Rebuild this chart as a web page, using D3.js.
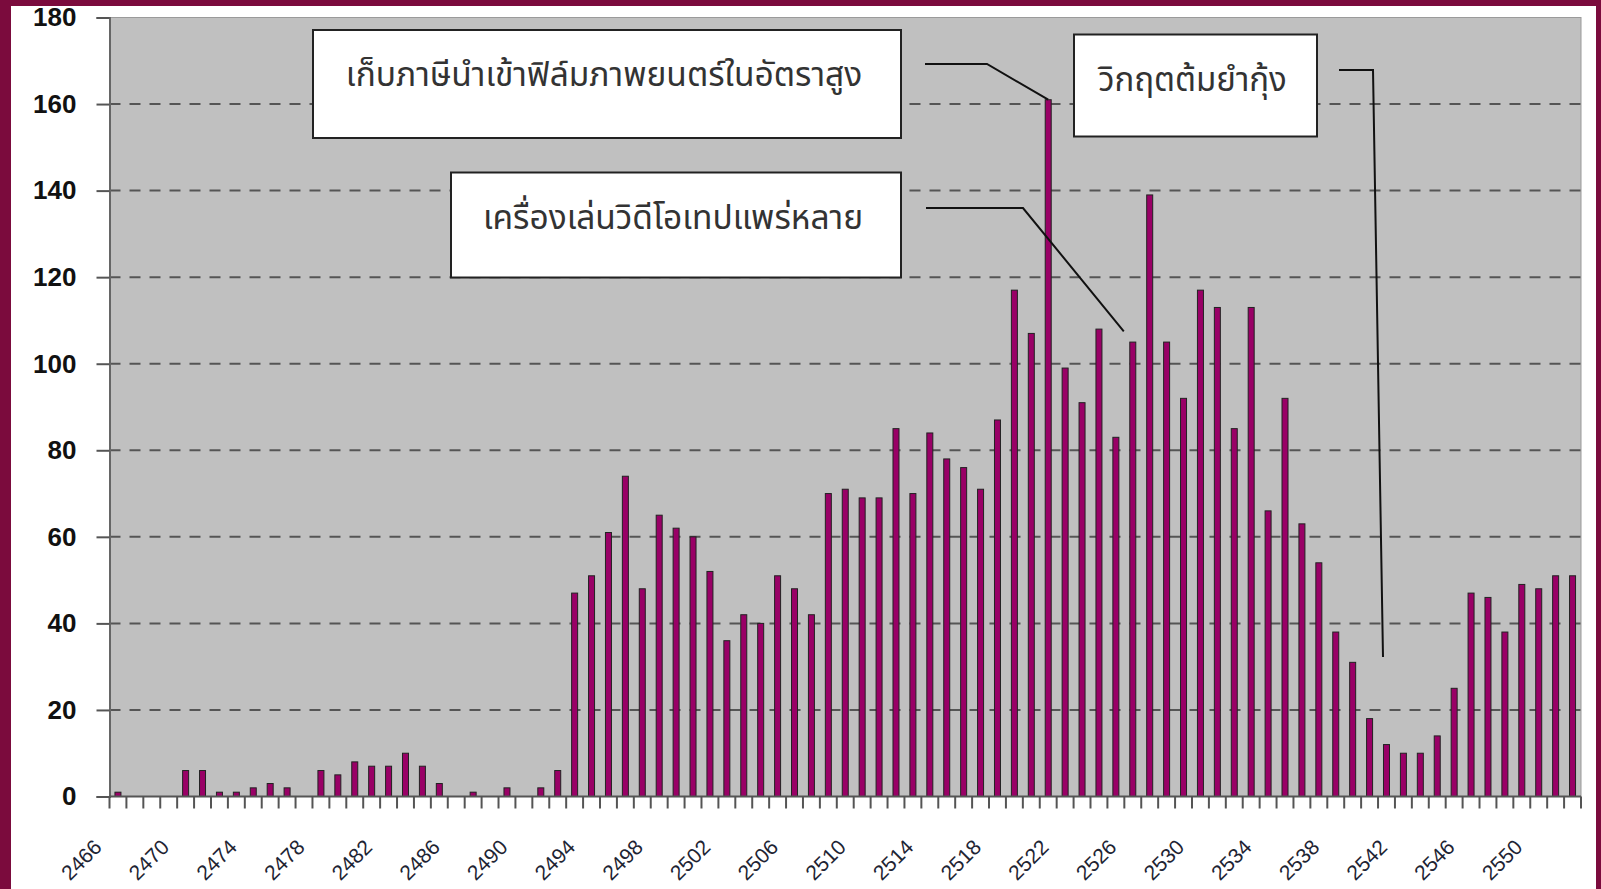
<!DOCTYPE html>
<html>
<head>
<meta charset="utf-8">
<script src="https://cdn.jsdelivr.net/npm/d3@7"></script>
<style>
  html, body { margin: 0; padding: 0; background: #fff; }
  #chart { width: 1601px; height: 889px; }
</style>
</head>
<body>
<div id="chart"></div>
<script>
// years (B.E.) and number of films per year
let firstYear = 2466, lastYear = 2552;
let years = d3.range(firstYear, lastYear + 1);
let films = [
    1, 0, 0, 0, 6, 6, 1, 1, 2, 3,
    2, 0, 6, 5, 8, 7, 7, 10, 7, 3,
    0, 1, 0, 2, 0, 2, 6, 47, 51, 61,
    74, 48, 65, 62, 60, 52, 36, 42, 40, 51,
    48, 42, 70, 71, 69, 69, 85, 70, 84, 78,
    76, 71, 87, 117, 107, 161, 99, 91, 108, 83,
    105, 139, 105, 92, 117, 113, 85, 113, 66, 92,
    63, 54, 38, 31, 18, 12, 10, 10, 14, 25,
    47, 46, 38, 49, 48, 51, 51
];
let xTickLabels = ["2466", "2470", "2474", "2478", "2482", "2486", "2490", "2494",
    "2498", "2502", "2506", "2510", "2514", "2518", "2522", "2526", "2530",
    "2534", "2538", "2542", "2546", "2550"];
let yTicks = [0, 20, 40, 60, 80, 100, 120, 140, 160, 180];
let notes = [
    "เก็บภาษีนำเข้าฟิล์มภาพยนตร์ในอัตราสูง",
    "เครื่องเล่นวิดีโอเทปแพร่หลาย",
    "วิกฤตต้มยำกุ้ง"
];

const W = 1601, H = 889;
let plot = {left: 109.5, right: 1581, top: 17.5, bottom: 796.5};

let svg = d3.select("#chart")
    .append("svg")
    .attr("width", W)
    .attr("height", H);

// maroon frame (left, top, right)
svg.append("rect").attr("width", W).attr("height", H).attr("fill", "#7b0b3d");
svg.append("rect")
    .attr("x", 11).attr("y", 6)
    .attr("width", 1596 - 11).attr("height", H - 6)
    .attr("fill", "#ffffff");

let x = d3.scaleBand()
    .domain(years)
    .range([plot.left, plot.right])
    .padding(0);

let y = d3.scaleLinear()
    .domain([0, 180])
    .range([plot.bottom, plot.top]);

// plot background
svg.append("rect")
    .attr("x", plot.left).attr("y", plot.top)
    .attr("width", plot.right - plot.left).attr("height", plot.bottom - plot.top)
    .attr("fill", "#c0c0c0")
    .attr("stroke", "#9a9a9a")
    .attr("stroke-width", 1);

// dashed grid lines
svg.append("g")
    .selectAll("line")
    .data(yTicks.filter(d => d > 0 && d < 180))
    .enter()
    .append("line")
    .attr("x1", plot.left).attr("x2", plot.right)
    .attr("y1", d => y(d)).attr("y2", d => y(d))
    .attr("stroke", "#555")
    .attr("stroke-width", 2)
    .attr("stroke-dasharray", "11,9");

// bars
let barW = 6;
svg.append("g")
    .selectAll("rect")
    .data(films)
    .enter()
    .append("rect")
    .attr("x", (d, i) => x(years[i]) + x.bandwidth() / 2 - barW / 2)
    .attr("y", d => y(d))
    .attr("width", barW)
    .attr("height", d => y(0) - y(d))
    .attr("fill", "#990066")
    .attr("stroke", "#222")
    .attr("stroke-width", 1);

// y axis
let yAxis = svg.append("g")
    .attr("transform", `translate(${plot.left}, 0)`)
    .call(d3.axisLeft(y).tickValues(yTicks).tickSize(13).tickPadding(20));
yAxis.select(".domain").attr("stroke", "#666").attr("stroke-width", 2);
yAxis.selectAll(".tick line").attr("stroke", "#555").attr("stroke-width", 2);
yAxis.selectAll(".tick text")
    .attr("fill", "#111")
    .style("font-family", "'Liberation Sans', Arial, sans-serif")
    .style("font-weight", "bold")
    .style("font-size", "26px");

// x axis: ticks at category boundaries
let xAxisG = svg.append("g");
xAxisG.append("line")
    .attr("x1", plot.left).attr("x2", plot.right)
    .attr("y1", plot.bottom).attr("y2", plot.bottom)
    .attr("stroke", "#555").attr("stroke-width", 2);
xAxisG.selectAll(".xtick")
    .data(years.concat([lastYear + 1]))
    .enter()
    .append("line")
    .attr("class", "xtick")
    .attr("x1", d => d <= lastYear ? x(d) : plot.right)
    .attr("x2", d => d <= lastYear ? x(d) : plot.right)
    .attr("y1", plot.bottom).attr("y2", plot.bottom + 12)
    .attr("stroke", "#555").attr("stroke-width", 2);
xAxisG.selectAll(".xlabel")
    .data(xTickLabels)
    .enter()
    .append("text")
    .attr("class", "xlabel")
    .attr("transform", d => `translate(${x(+d) + x.bandwidth() / 2 - 15}, ${plot.bottom + 52}) rotate(-45)`)
    .attr("text-anchor", "end")
    .attr("fill", "#1e2433")
    .style("font-family", "'Liberation Sans', Arial, sans-serif")
    .style("font-size", "21px")
    .text(d => d);

// annotation boxes and leader lines
let boxes = [
    {x: 313, y: 30, w: 588, h: 108, size: 33.5},
    {x: 451, y: 172.5, w: 450, h: 105, size: 33.5},
    {x: 1074, y: 34.5, w: 243, h: 102, size: 33}
];
let leaders = [
    [[925, 64], [987, 64], [x(2521) + x.bandwidth() / 2, y(161)]],
    [[926, 208], [1023, 208], [x(2526) + x.bandwidth() / 2 - 9, y(107.5)]],
    [[1339, 70], [1373, 70], [1383, 657]]
];

let ann = svg.append("g");
ann.selectAll("rect")
    .data(boxes)
    .enter()
    .append("rect")
    .attr("x", d => d.x).attr("y", d => d.y)
    .attr("width", d => d.w).attr("height", d => d.h)
    .attr("fill", "#fff")
    .attr("stroke", "#222")
    .attr("stroke-width", 2);
ann.selectAll("text")
    .data(boxes)
    .enter()
    .append("text")
    .attr("x", d => d.x + d.w / 2 - 3)
    .attr("y", d => d.y + 56)
    .attr("text-anchor", "middle")
    .attr("fill", "#333")
    .style("font-family", "'Noto Sans Thai', 'Noto Serif Thai', Loma, Garuda, Tahoma, sans-serif")
    .style("font-size", d => d.size + "px")
    .text((d, i) => notes[i]);
ann.selectAll("path")
    .data(leaders)
    .enter()
    .append("path")
    .attr("d", d3.line())
    .attr("fill", "none")
    .attr("stroke", "#111")
    .attr("stroke-width", 2);
</script>
</body>
</html>
